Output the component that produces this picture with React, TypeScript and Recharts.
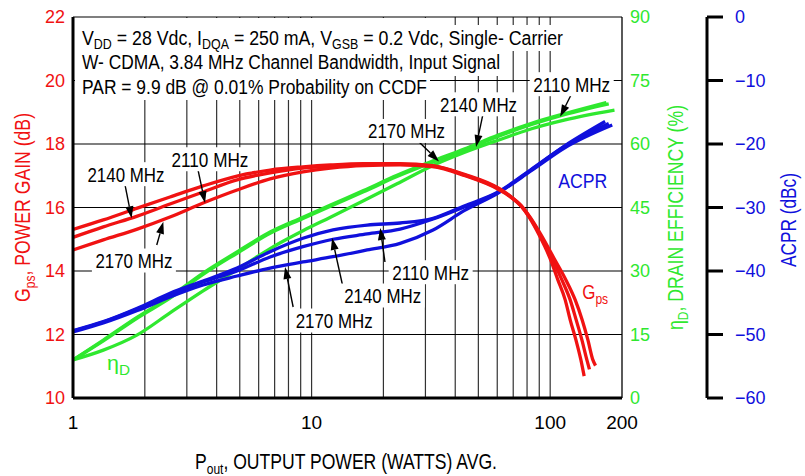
import { LineChart, Line, XAxis, YAxis, CartesianGrid, ReferenceLine, ReferenceDot } from 'recharts'

const RED = '#f01212'
const GREEN = '#2fe82f'
const BLUE = '#1010dc'
const NARROW = "'Liberation Sans Narrow', 'Arial Narrow', 'Liberation Sans', Arial, sans-serif"
const SANS = "'Liberation Sans', Arial, sans-serif"

// Pout (W) on a log axis
const powerTicks = [1, 10, 100, 200]
const powerGrid = [2, 3, 4, 5, 6, 7, 8, 9, 10, 20, 30, 40, 50, 60, 70, 80, 90, 100]
const gainTicks = [10, 12, 14, 16, 18, 20, 22]
const effTicks = [0, 15, 30, 45, 60, 75, 90]
const acprTicks = [-60, -50, -40, -30, -20, -10, 0]

// Gps (dB)
const gain2140 = [
  { p: 1, v: 15.31 }, { p: 1.34, v: 15.61 }, { p: 1.86, v: 15.98 }, { p: 2.55, v: 16.33 },
  { p: 3.51, v: 16.68 }, { p: 4.87, v: 16.99 }, { p: 6.7, v: 17.18 }, { p: 9.2, v: 17.28 },
  { p: 12, v: 17.34 }, { p: 16.5, v: 17.38 }, { p: 23.5, v: 17.38 }, { p: 32, v: 17.32 },
  { p: 44, v: 17.04 }, { p: 61.1, v: 16.6 }, { p: 68, v: 16.36 }, { p: 75.6, v: 16.06 },
  { p: 82.8, v: 15.67 }, { p: 91.7, v: 15.13 }, { p: 103.6, v: 14.41 }, { p: 116.4, v: 13.72 },
  { p: 127.3, v: 13.09 }, { p: 136.2, v: 12.46 }, { p: 143.9, v: 11.83 }, { p: 151, v: 11.2 },
  { p: 154.9, v: 11.02 },
]
const gain2110 = [
  { p: 1, v: 15.06 }, { p: 1.34, v: 15.39 }, { p: 1.86, v: 15.73 }, { p: 2.55, v: 16.11 },
  { p: 3.51, v: 16.49 }, { p: 4.87, v: 16.87 }, { p: 6.7, v: 17.09 }, { p: 9.2, v: 17.24 },
  { p: 12, v: 17.3 }, { p: 16.5, v: 17.36 }, { p: 23.5, v: 17.36 }, { p: 32, v: 17.31 },
  { p: 44, v: 17.02 }, { p: 61.1, v: 16.58 }, { p: 68, v: 16.35 }, { p: 75.6, v: 16.05 },
  { p: 82.45, v: 15.67 }, { p: 90.8, v: 15.13 }, { p: 101.6, v: 14.41 }, { p: 112, v: 13.72 },
  { p: 121.3, v: 13.09 }, { p: 128.5, v: 12.46 }, { p: 135.8, v: 11.83 }, { p: 142.5, v: 11.2 },
  { p: 146.1, v: 10.9 },
]
const gain2170 = [
  { p: 1, v: 14.66 }, { p: 1.34, v: 14.98 }, { p: 1.86, v: 15.32 }, { p: 2.55, v: 15.7 },
  { p: 3.51, v: 16.14 }, { p: 4.87, v: 16.55 }, { p: 6.7, v: 16.9 }, { p: 9.2, v: 17.12 },
  { p: 12, v: 17.24 }, { p: 16.5, v: 17.32 }, { p: 23.5, v: 17.34 }, { p: 32, v: 17.29 },
  { p: 44, v: 17.0 }, { p: 61.1, v: 16.56 }, { p: 68, v: 16.34 }, { p: 75.6, v: 16.04 },
  { p: 82.0, v: 15.67 }, { p: 89.9, v: 15.13 }, { p: 99.7, v: 14.41 }, { p: 107.7, v: 13.72 },
  { p: 115.6, v: 13.09 }, { p: 121.3, v: 12.46 }, { p: 128.2, v: 11.83 }, { p: 134.5, v: 11.2 },
  { p: 138.8, v: 10.69 },
]

// ηD (%)
const eff2110 = [
  { p: 1, v: 8.98 }, { p: 1.34, v: 13.7 }, { p: 1.86, v: 19.1 }, { p: 2.55, v: 23.9 },
  { p: 3.51, v: 29.5 }, { p: 4.87, v: 34.5 }, { p: 6.7, v: 39.2 }, { p: 9.2, v: 42.7 },
  { p: 12, v: 45.6 }, { p: 16.5, v: 49.0 }, { p: 22.8, v: 52.6 }, { p: 31.6, v: 55.8 },
  { p: 43.6, v: 58.8 }, { p: 60.5, v: 62.1 }, { p: 83.6, v: 64.9 }, { p: 115.6, v: 67.2 },
  { p: 172, v: 69.8 },
]
const eff2140 = [
  { p: 1, v: 8.98 }, { p: 1.34, v: 13.5 }, { p: 1.86, v: 18.9 }, { p: 2.55, v: 23.6 },
  { p: 3.51, v: 29.2 }, { p: 4.87, v: 34.2 }, { p: 6.7, v: 38.9 }, { p: 9.2, v: 42.4 },
  { p: 12, v: 45.3 }, { p: 16.5, v: 48.7 }, { p: 22.8, v: 52.3 }, { p: 31.6, v: 55.5 },
  { p: 43.6, v: 58.6 }, { p: 60.5, v: 61.8 }, { p: 83.6, v: 64.6 }, { p: 115.6, v: 67.0 },
  { p: 176, v: 69.5 },
]
const eff2170 = [
  { p: 1, v: 8.98 }, { p: 1.34, v: 11.3 }, { p: 1.86, v: 14.9 }, { p: 2.55, v: 20.1 },
  { p: 3.51, v: 25.3 }, { p: 4.87, v: 30.3 }, { p: 6.7, v: 35.3 }, { p: 9.2, v: 39.5 },
  { p: 12, v: 42.7 }, { p: 16.5, v: 46.6 }, { p: 22.8, v: 50.6 }, { p: 31.6, v: 54.7 },
  { p: 43.6, v: 58.0 }, { p: 60.5, v: 60.9 }, { p: 83.6, v: 63.6 }, { p: 115.6, v: 65.7 },
  { p: 186, v: 68.0 },
]

// ACPR (dBc)
const acpr2110 = [
  { p: 1, v: -49.4 }, { p: 1.34, v: -47.98 }, { p: 1.86, v: -45.87 }, { p: 2.55, v: -43.51 },
  { p: 3.51, v: -41.57 }, { p: 4.87, v: -39.53 }, { p: 6.7, v: -36.96 }, { p: 9.2, v: -34.85 },
  { p: 12.3, v: -33.54 }, { p: 17.1, v: -32.76 }, { p: 23.5, v: -32.44 }, { p: 32.3, v: -31.7 },
  { p: 43.6, v: -29.76 }, { p: 60.5, v: -27.56 }, { p: 83.6, v: -23.94 }, { p: 115.6, v: -20.24 },
  { p: 170, v: -16.46 },
]
const acpr2140 = [
  { p: 1, v: -49.45 }, { p: 1.34, v: -48.03 }, { p: 1.86, v: -45.98 }, { p: 2.55, v: -43.78 },
  { p: 3.51, v: -41.73 }, { p: 4.87, v: -40.0 }, { p: 6.7, v: -37.8 }, { p: 9.2, v: -36.17 },
  { p: 12.3, v: -35.0 }, { p: 17.1, v: -34.17 }, { p: 23.5, v: -33.39 }, { p: 32.3, v: -31.81 },
  { p: 43.6, v: -29.92 }, { p: 60.5, v: -27.64 }, { p: 83.6, v: -24.02 }, { p: 115.6, v: -20.31 },
  { p: 176, v: -16.77 },
]
const acpr2170 = [
  { p: 1, v: -49.61 }, { p: 1.34, v: -48.19 }, { p: 1.86, v: -46.22 }, { p: 2.55, v: -44.09 },
  { p: 3.51, v: -42.2 }, { p: 4.87, v: -40.79 }, { p: 6.7, v: -39.53 }, { p: 9.2, v: -38.58 },
  { p: 12.3, v: -37.75 }, { p: 17.1, v: -36.69 }, { p: 23.5, v: -35.64 }, { p: 32.3, v: -33.54 },
  { p: 43.6, v: -30.5 }, { p: 60.5, v: -27.72 }, { p: 83.6, v: -24.17 }, { p: 115.6, v: -20.55 },
  { p: 182, v: -17.0 },
]

// frequency call-outs: label anchor and arrow (tail -> head), in axis units
const gainTags = [
  { text: '2140 MHz', p: 1.667, v: 17.05, from: [1.652, 16.71], to: [1.762, 15.66] },
  { text: '2110 MHz', p: 3.75, v: 17.52, from: [3.343, 17.18], to: [3.577, 16.14] },
  { text: '2170 MHz', p: 1.8, v: 14.33, from: [2.244, 14.82], to: [2.391, 15.55] },
]
const effTags = [
  { text: '2170 MHz', p: 25.0, v: 63.08, from: [28.2, 60.48], to: [34.2, 55.87] },
  { text: '2140 MHz', p: 50.1, v: 69.38, from: [52.2, 66.86], to: [48.9, 59.3] },
  { text: '2110 MHz', p: 123.1, v: 74.13, from: [123.3, 71.98], to: [110.1, 66.45] },
]
const acprTags = [
  { text: '2110 MHz', p: 31.55, v: -40.19, from: [20.3, -38.58], to: [19.4, -33.23] },
  { text: '2140 MHz', p: 19.85, v: -43.86, from: [13.56, -42.68], to: [12.19, -34.8] },
  { text: '2170 MHz', p: 12.43, v: -47.8, from: [8.37, -45.67], to: [7.74, -39.37] },
]

const Arrow = (props: any) => {
  const { x1, y1, x2, y2 } = props
  const a = Math.atan2(y2 - y1, x2 - x1)
  const len = 12
  const half = 4
  const bx = x2 - len * Math.cos(a)
  const by = y2 - len * Math.sin(a)
  const l = `${bx + half * Math.sin(a)},${by - half * Math.cos(a)}`
  const r = `${bx - half * Math.sin(a)},${by + half * Math.cos(a)}`
  return (
    <g>
      <line x1={x1} y1={y1} x2={bx} y2={by} stroke="#000" strokeWidth={1.4} />
      <polygon points={`${x2},${y2} ${l} ${r}`} fill="#000" />
    </g>
  )
}

// boxed frequency label, white box hides the grid behind it
const tagShape = (text: string) => (props: any) => (
  <g>
    <rect x={props.cx - 42} y={props.cy - 12} width={84} height={24} fill="#fff" />
    <text
      x={props.cx}
      y={props.cy + 7.5}
      textAnchor="middle"
      fontSize={21}
      fontFamily={NARROW}
      textLength={77}
      lengthAdjust="spacingAndGlyphs"
      fill="#000"
    >
      {text}
    </text>
  </g>
)

const seriesName = (main: string, sub: string, color: string, width: number) => (props: any) => (
  <text
    x={props.cx}
    y={props.cy + 7.5}
    textAnchor="middle"
    fontSize={21}
    fontFamily={NARROW}
    textLength={width}
    lengthAdjust="spacingAndGlyphs"
    fill={color}
  >
    {main}
    {sub && (
      <tspan fontSize={15} dy={5}>
        {sub}
      </tspan>
    )}
  </text>
)

const acprLabel = (v: number) => (v === 0 ? '0' : `\u2212${Math.abs(v)}`)

function callouts(tags: any[], yAxisId: string) {
  return tags.flatMap((t, i) => [
    <ReferenceLine
      key={`${yAxisId}-a${i}`}
      xAxisId="p"
      yAxisId={yAxisId}
      segment={[{ x: t.from[0], y: t.from[1] }, { x: t.to[0], y: t.to[1] }]}
      ifOverflow="visible"
      shape={Arrow}
    />,
    <ReferenceDot
      key={`${yAxisId}-t${i}`}
      xAxisId="p"
      yAxisId={yAxisId}
      x={t.p}
      y={t.v}
      ifOverflow="visible"
      shape={tagShape(t.text)}
    />,
  ])
}

const curve = (data: any[], yAxisId: string, color: string, key: string) => (
  <Line
    key={key}
    data={data}
    dataKey="v"
    xAxisId="p"
    yAxisId={yAxisId}
    type="monotone"
    stroke={color}
    strokeWidth={3.3}
    dot={false}
    activeDot={false}
    isAnimationActive={false}
  />
)

// right-hand axes: "r1eff" sits on the plot frame, "r2acpr" stands off to the right
export default function App() {
  return (
    <div style={{ position: 'absolute', left: 0, top: 0, width: 805, height: 476, background: '#fff', fontFamily: SANS }}>
      <LineChart width={805} height={476} margin={{ top: 17, right: 0, bottom: 0, left: 0 }}>
        <CartesianGrid
          xAxisId="p"
          yAxisId="gain"
          horizontal={false}
          verticalValues={powerGrid}
          stroke="#333"
          strokeWidth={1.2}
        />
        <CartesianGrid
          xAxisId="p"
          yAxisId="gain"
          vertical={false}
          horizontalValues={[12, 14, 16, 18, 20, 22]}
          stroke="#000"
          strokeWidth={1.2}
        />
        <XAxis
          xAxisId="p"
          type="number"
          dataKey="p"
          scale="log"
          domain={[1, 200]}
          ticks={powerTicks}
          interval={0}
          allowDataOverflow
          height={78}
          axisLine={{ stroke: '#000', strokeWidth: 3 }}
          tickLine={false}
          tickMargin={12}
          tick={{ fill: '#000', fontSize: 19, fontFamily: NARROW }}
        />
        <YAxis
          yAxisId="gain"
          orientation="left"
          width={73}
          domain={[10, 22]}
          ticks={gainTicks}
          interval={0}
          axisLine={{ stroke: '#000', strokeWidth: 3 }}
          tickLine={false}
          tick={{ fill: RED, fontSize: 18, fontFamily: SANS }}
        />
        <YAxis
          yAxisId="r2acpr"
          orientation="right"
          width={98}
          domain={[-60, 0]}
          ticks={acprTicks}
          interval={0}
          axisLine={{ stroke: '#000', strokeWidth: 3 }}
          tickLine={{ stroke: '#000', strokeWidth: 3 }}
          tickSize={16}
          tickMargin={12}
          tickFormatter={acprLabel}
          tick={{ fill: BLUE, fontSize: 18, fontFamily: SANS }}
        />
        <YAxis
          yAxisId="r1eff"
          orientation="right"
          width={85}
          domain={[0, 90]}
          ticks={effTicks}
          interval={0}
          axisLine={{ stroke: '#000', strokeWidth: 1.3 }}
          tickLine={false}
          tick={{ fill: GREEN, fontSize: 18, fontFamily: SANS }}
        />

        {curve(eff2170, 'r1eff', GREEN, 'e2170')}
        {curve(eff2140, 'r1eff', GREEN, 'e2140')}
        {curve(eff2110, 'r1eff', GREEN, 'e2110')}
        {curve(acpr2170, 'r2acpr', BLUE, 'a2170')}
        {curve(acpr2140, 'r2acpr', BLUE, 'a2140')}
        {curve(acpr2110, 'r2acpr', BLUE, 'a2110')}
        {curve(gain2170, 'gain', RED, 'g2170')}
        {curve(gain2110, 'gain', RED, 'g2110')}
        {curve(gain2140, 'gain', RED, 'g2140')}

        {callouts(gainTags, 'gain')}
        {callouts(effTags, 'r1eff')}
        {callouts(acprTags, 'r2acpr')}

        <ReferenceDot xAxisId="p" yAxisId="gain" x={154.4} y={13.35} ifOverflow="visible" shape={seriesName('G', 'ps', RED, 26)} />
        <ReferenceDot xAxisId="p" yAxisId="r2acpr" x={136.9} y={-25.75} ifOverflow="visible" shape={seriesName('ACPR', '', BLUE, 49)} />
        <ReferenceDot xAxisId="p" yAxisId="r1eff" x={1.552} y={8.5} ifOverflow="visible" shape={seriesName('\u03b7', 'D', GREEN, 23)} />
      </LineChart>

      <svg width={805} height={476} style={{ position: 'absolute', left: 0, top: 0, pointerEvents: 'none' }}>
        <g fontFamily={NARROW} fill="#000">
          <rect x={75} y={18} width={355} height={82} fill="#fff" />
          <rect x={430} y={25} width={74} height={51} fill="#fff" />
          <rect x={504} y={25} width={63} height={26} fill="#fff" />
          <text x={82} y={44.5} fontSize={20} textLength={481} lengthAdjust="spacingAndGlyphs">
            V<tspan fontSize={14} dy={4}>DD</tspan>
            <tspan dy={-4}> = 28 Vdc, I</tspan>
            <tspan fontSize={14} dy={4}>DQA</tspan>
            <tspan dy={-4}> = 250 mA, V</tspan>
            <tspan fontSize={14} dy={4}>GSB</tspan>
            <tspan dy={-4}> = 0.2 Vdc, Single- Carrier</tspan>
          </text>
          <text x={82} y={69} fontSize={20} textLength={418} lengthAdjust="spacingAndGlyphs">
            W- CDMA, 3.84 MHz Channel Bandwidth, Input Signal
          </text>
          <text x={82} y={94} fontSize={20} textLength={345} lengthAdjust="spacingAndGlyphs">
            PAR = 9.9 dB @ 0.01% Probability on CCDF
          </text>

          <text x={346} y={469} fontSize={22} textAnchor="middle" textLength={302} lengthAdjust="spacingAndGlyphs">
            P<tspan fontSize={15} dy={5}>out</tspan>
            <tspan dy={-5}>, OUTPUT POWER (WATTS) AVG.</tspan>
          </text>
          <text transform="translate(30,207.5) rotate(-90)" fontSize={22} textAnchor="middle" fill={RED} textLength={189} lengthAdjust="spacingAndGlyphs">
            G<tspan fontSize={15} dy={5}>ps</tspan>
            <tspan dy={-5}>, POWER GAIN (dB)</tspan>
          </text>
          <text transform="translate(683,217.5) rotate(-90)" fontSize={22} textAnchor="middle" fill={GREEN} textLength={225} lengthAdjust="spacingAndGlyphs">
            {'\u03b7'}<tspan fontSize={15} dy={5}>D</tspan>
            <tspan dy={-5}>, DRAIN EFFICIENCY (%)</tspan>
          </text>
          <text transform="translate(796,220) rotate(-90)" fontSize={22} textAnchor="middle" fill={BLUE} textLength={94} lengthAdjust="spacingAndGlyphs">
            ACPR (dBc)
          </text>
        </g>
      </svg>
    </div>
  )
}
